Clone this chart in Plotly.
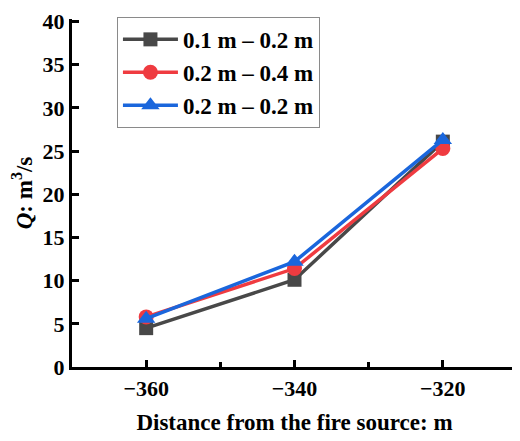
import plotly.graph_objects as go

distance = [-360, -340, -320]
q_01_02 = [4.5, 10.1, 26.1]
q_02_04 = [5.8, 11.4, 25.3]
q_02_02 = [5.6, 12.2, 26.3]

series = [
    ("0.1 m – 0.2 m", q_01_02, "#484848", "square", 14),
    ("0.2 m – 0.4 m", q_02_04, "#EF3B40", "circle", 15),
    ("0.2 m – 0.2 m", q_02_02, "#1A66DC", "triangle-up", 16),
]

fig = go.Figure()
for name, vals, color, symbol, size in series:
    fig.add_trace(go.Scatter(
        x=distance,
        y=vals,
        name=name,
        mode="lines+markers",
        line=dict(color=color, width=3.5),
        marker=dict(symbol=symbol, size=size, color=color),
    ))

tick_font = dict(family="Liberation Serif", size=22, color="black", weight="bold")
title_font = dict(family="Liberation Serif", size=23, color="black", weight="bold")

# page body has an 8px margin, so margins are shifted to compensate
fig.update_layout(
    width=520,
    height=441,
    margin=dict(l=64, r=11, t=9, b=82),
    paper_bgcolor="white",
    plot_bgcolor="white",
    font=title_font,
    showlegend=True,
    legend=dict(
        x=0.101, y=1.006, xanchor="left", yanchor="top",
        bgcolor="white", bordercolor="#8a8a8a", borderwidth=1,
        font=title_font,
        itemwidth=55,
        tracegroupgap=0,
    ),
)

fig.update_xaxes(
    range=[-370, -310],
    tickvals=[-360, -340, -320],
    showline=True, linecolor="black", linewidth=3,
    ticks="inside", ticklen=7, tickwidth=2.5, tickcolor="black",
    minor=dict(ticks="inside", dtick=10, tick0=-370, ticklen=5, tickwidth=2.5, tickcolor="black"),
    showgrid=False, zeroline=False,
    tickfont=tick_font,
    automargin=False,
    title=dict(text="Distance from the fire source: m", font=title_font, standoff=14),
)

fig.update_yaxes(
    range=[0, 40.3],
    tickvals=[0, 5, 10, 15, 20, 25, 30, 35, 40],
    showline=True, linecolor="black", linewidth=3,
    ticks="inside", ticklen=7, tickwidth=2.5, tickcolor="black",
    showgrid=False, zeroline=False,
    tickfont=tick_font,
    ticklabeloverflow="allow",
    automargin=False,
    title=dict(text="<i>Q</i>: m<sup>3</sup>/s", font=title_font, standoff=6),
)

fig.write_html("out.html")
